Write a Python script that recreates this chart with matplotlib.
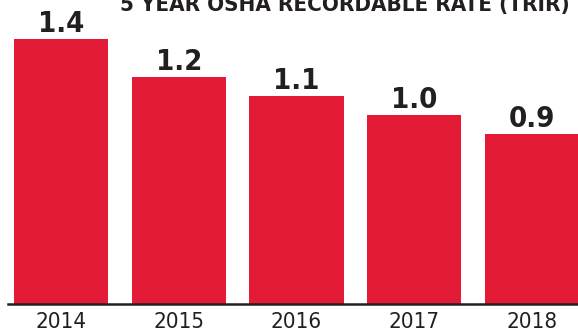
import matplotlib.pyplot as plt

years = ['2014', '2015', '2016', '2017', '2018']
rates = [1.4, 1.2, 1.1, 1.0, 0.9]
labels = ['1.4', '1.2', '1.1', '1.0', '0.9']

fig = plt.figure(figsize=(5.78, 3.33), dpi=100)
ax = fig.add_axes([8 / 578, 29 / 333, 570 / 578, 304 / 333])

ax.bar(range(len(years)), rates, width=0.8, color='#e31b37')
ax.set_xlim(-0.45, 4.39)
ax.set_ylim(0, 304 / 189)

# value labels above bars
for i, (v, t) in enumerate(zip(rates, labels)):
    ax.annotate(t, (i, v), xytext=(0, 5), textcoords='offset points',
                ha='center', va='baseline', fontsize=21, fontweight='bold',
                fontstretch='condensed', color='#231f20')

ax.set_xticks(range(len(years)))
ax.set_xticklabels(years, fontsize=16, fontstretch='condensed', color='#231f20')
ax.tick_params(axis='x', length=0, pad=6)
ax.set_yticks([])
for s in ['top', 'right', 'left']:
    ax.spines[s].set_visible(False)
ax.spines['bottom'].set_linewidth(1.8)
ax.spines['bottom'].set_color('#231f20')

fig.text(570 / 578, 322 / 333, '5 YEAR OSHA RECORDABLE RATE (TRIR)', ha='right',
         va='baseline', fontsize=16, fontweight='bold', fontstretch='condensed',
         color='#231f20')

fig.savefig('out.png', dpi=100)
